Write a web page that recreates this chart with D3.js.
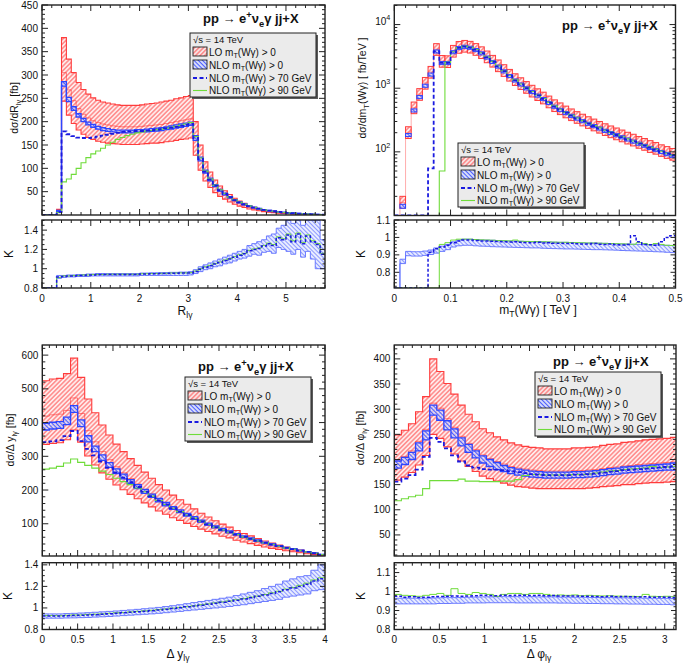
<!DOCTYPE html>
<html><head><meta charset="utf-8">
<script src="https://cdn.jsdelivr.net/npm/d3@7"></script>
<style>body{margin:0;background:#fff}svg{display:block}text{font-family:"Liberation Sans",Arial,Helvetica,sans-serif;fill:#111}</style>
</head><body><svg id="c" width="685" height="667"></svg>
<script>
// ---------------- DATA ----------------
// Panel 1: R_lgamma, bins of 0.1 from 0 to 5.8
const edgesR = d3.range(59).map(i => i / 10);
const loHiR = [0,0,0,12, 380,334,305,284,269,259,251,246,242,240,238,236,235,235,235,235,236,238,239,240,242,244,246,249,251,254,256,
  200,150,114,92,75,62,52,44,36,30,25,20,16.6,14,11.2,9.4,7.9,6.1,5.2,4.2,3.5,2.8,2.4,1.8,1.4,1.0,0.75];
const loMidR = [0,0,0,9, 305,268,245,228,216,208,202,198,195,193,191,190,189,189,189,189,190,191,192,193,194,196,198,200,202,204,206,
  160,120,91,74,60,50,42,35,29,24,20,16,13.3,11.2,9,7.5,6.3,4.9,4.2,3.4,2.8,2.2,1.9,1.4,1.1,0.8,0.6];
const loLoR = [0,0,0,7, 244,214,196,182,173,166,162,158,156,154,153,152,151,151,151,151,152,153,154,154,155,157,158,160,162,163,165,
  128,96,73,59,48,40,34,28,23,19,16,13,10.6,9,7.2,6,5,3.9,3.4,2.7,2.2,1.8,1.5,1.1,0.9,0.6,0.5];
const nloLoR = [0,0,0,8, 276,243,224,210,200,193,188,184,181,179,178,177,176,176,176,177,178,178,179,180,181,183,184,186,188,190,192,
  160,116,90,73,61,51,43,36.5,31,26,22,18,15.3,12.8,10.4,9,7.5,6.1,5.1,4.2,3.4,2.7,2.2,1.7,1.2,0.9,0.6];
const nloHiR = [0,0,0,10, 286,252,232,217,207,199,194,190,187,185,183,182,182,182,182,183,183,184,185,186,187,189,191,193,195,197,199,
  170,124,96,79,65,55,47,39.5,33,28,24,20,16.7,14.2,11.6,10,8.5,6.9,5.9,4.8,4,3.3,2.6,2.1,1.6,1.1,0.8];
const nlo70R = [0,0,0,6, 179,173,169,166,165,165,166,168,170,172,174,176,178,179,179,180,180,181,182,183,184,186,187,189,191,193,195,
  165,120,93,76,63,53,45,38,32,27,23,19,16,13.5,11,9.5,8,6.5,5.5,4.5,3.7,3,2.4,1.9,1.4,1,0.7];
const nlo90R = [0,0,0,5, 71,77,87,100,112,123,131,137,143,150,156,162,166,170,173,176,178,180,181,183,184,186,188,190,192,195,198,
  168,122,94,77,64,54,46,38,32,27,23,19,16,13.5,11,9.5,8,6.5,5.5,4.5,3.7,3,2.4,1.9,1.4,1,0.7];
const kLoR = [0,0,0,0.90, 0.91,0.915,0.915,0.92,0.92,0.92,0.925, 0.925,0.925,0.925,0.925,0.925,0.925,0.925,0.925,0.925,
  0.93,0.93,0.93,0.93,0.93,0.93,0.93,0.93,0.93,0.93, 0.935,
  0.95,0.97,0.99,1.0,1.02,1.03,1.05,1.06,1.08,1.10,1.11,1.13,1.15,1.14,1.17,1.18,1.16,1.22,1.20,1.18,1.15,1.20,1.12,1.18,1.10,1.00,1.00];
const kHiR = [0,0,0,0.93, 0.93,0.935,0.935,0.94,0.94,0.945,0.945, 0.95,0.95,0.95,0.95,0.95,0.95,0.95,0.95,0.95,
  0.955,0.955,0.958,0.958,0.96,0.96,0.962,0.962,0.965,0.965, 0.97,
  0.99,1.02,1.04,1.06,1.08,1.10,1.12,1.14,1.16,1.18,1.20,1.24,1.26,1.28,1.30,1.34,1.36,1.42,1.45,1.50,1.47,1.50,1.45,1.50,1.50,1.50,1.30];
const k70R = [0,0,0,0.915, 0.92,0.925,0.925,0.93,0.93,0.935,0.935, 0.94,0.94,0.94,0.94,0.94,0.94,0.94,0.94,0.94,
  0.945,0.945,0.948,0.948,0.95,0.95,0.952,0.952,0.955,0.955, 0.955,
  0.97,0.995,1.015,1.03,1.05,1.065,1.085,1.10,1.12,1.14,1.155,1.185,1.20,1.21,1.235,1.26,1.24,1.32,1.30,1.35,1.28,1.36,1.26,1.34,1.28,1.25,1.15];
const k90R = [0,0,0,0.91, 0.925,0.925,0.93,0.93,0.935,0.935,0.94, 0.94,0.94,0.942,0.942,0.942,0.942,0.942,0.942,0.942,
  0.948,0.948,0.95,0.95,0.952,0.952,0.955,0.955,0.957,0.957, 0.96,
  0.975,1.0,1.02,1.035,1.055,1.07,1.09,1.105,1.125,1.145,1.16,1.19,1.205,1.215,1.24,1.265,1.25,1.33,1.31,1.36,1.29,1.37,1.27,1.35,1.29,1.26,1.16];

// Panel 2: mT(W gamma) in TeV, bins of 0.01 from 0 to 0.5
const edgesM = d3.range(51).map(i => i / 100);
const loHiM = [0,20,248,606,985,1475,2200,5012,3262,3228,4702,5408,5630,5444,5020,4465,3836,3277,2778,2339,1974,1685,1458,1270,1111,978,866,752,656,587,523,472,428,390,356,327,300,276,255,237,220,203,189,174,162,150,140,129,121,113];
const loLoM = [0,13,162,398,646,967,1442,3286,2139,2117,3083,3546,3692,3570,3292,2928,2515,2149,1822,1534,1294,1105,956,833,729,642,568,493,430,385,343,310,281,256,234,214,197,181,167,155,144,133,124,114,106,98,92,85,79,74];
const loMidM = [0,16,203,497,807,1209,1803,4108,2674,2646,3854,4433,4615,4462,4115,3660,3144,2686,2277,1917,1618,1381,1195,1041,911,802,710,616,538,481,429,387,351,320,292,268,246,226,209,194,180,166,155,143,133,123,115,106,99,93];
const nloLoM = [0,13,174,423,686,1034,1551,3572,2350,2350,3478,4042,4230,4089,3760,3337,2867,2444,2068,1739,1466,1250,1081,940,823,724,639,555,484,432,385,348,315,287,261,240,220,202,187,173,160,148,137,127,118,109,102,94,87,82];
const nloHiM = [0,15,194,473,767,1155,1733,3990,2625,2625,3885,4515,4725,4568,4200,3728,3203,2730,2310,1943,1638,1397,1208,1050,919,809,714,620,541,483,431,389,352,320,292,268,246,226,209,193,179,165,153,142,131,122,113,105,98,91];
const nlo70M = [0,0,0,0,0,0,55,3800,2500,2500,3700,4300,4500,4350,4000,3550,3050,2600,2200,1850,1560,1330,1150,1000,875,770,680,590,515,460,410,370,335,305,278,255,234,215,199,184,170,157,146,135,125,116,108,100,93,87];
const nlo90M = [0,0,0,0,0,0,0,0,50,2550,3750,4350,4550,4400,4050,3600,3100,2640,2230,1880,1580,1350,1165,1015,888,782,690,600,523,467,417,376,340,310,282,259,238,218,202,187,173,160,148,137,127,118,110,102,95,89];
const kLoM = [0,0.85,0.895,0.893,0.893,0.897,0.902,0.91,0.92,0.93,0.945,0.952,0.955,0.955,0.952,0.95,0.949,0.947,0.946,0.945,0.944,0.943,0.942,0.941,0.94,0.94,0.938,0.937,0.936,0.935,0.934,0.934,0.933,0.932,0.931,0.93,0.93,0.929,0.928,0.927,0.925,0.924,0.923,0.922,0.921,0.92,0.918,0.917,0.915,0.913];
const kHiM = [0,0.875,0.92,0.918,0.918,0.922,0.928,0.94,0.95,0.96,0.975,0.985,0.99,0.99,0.988,0.986,0.985,0.984,0.982,0.981,0.98,0.979,0.978,0.977,0.976,0.976,0.975,0.974,0.973,0.972,0.972,0.971,0.97,0.969,0.968,0.968,0.967,0.966,0.965,0.964,0.963,0.962,0.961,0.96,0.959,0.958,0.957,0.956,0.955,0.954];
const k70M = [0,0,0,0,0,0,0.915,0.935,0.945,0.955,0.97,0.98,0.985,0.985,0.982,0.98,0.98,0.978,0.976,0.975,0.974,0.975,0.972,0.971,0.97,0.972,0.968,0.97,0.967,0.966,0.965,0.967,0.964,0.963,0.962,0.965,0.961,0.96,0.962,0.958,0.957,0.96,1.01,0.975,0.96,0.958,0.955,0.975,1.0,1.01];
const k90M = [0,0,0,0,0,0,0,0,0.96,0.97,0.985,0.99,0.99,0.99,0.988,0.986,0.985,0.984,0.982,0.981,0.98,0.985,0.978,0.977,0.976,0.976,0.975,0.974,0.973,0.972,0.972,0.971,0.97,0.969,0.968,0.968,0.967,0.966,0.965,0.964,0.963,0.962,0.961,0.97,0.965,0.958,0.965,0.96,0.955,0.954];

// Panel 3: Delta y_lgamma, bins of 0.1 from 0 to 4
const edgesY = d3.range(41).map(i => i / 10);
const loHiY = [524,529,531,545,591,534,470,429,393,363,336,314,293,273,253,235,216,200,185,171,158,144,131,120,109,99,90,80,71,64,56,49,43,37,31,26,22,17.5,13,9];
const loMidY = [419,423,425,436,473,427,376,343,314,290,269,251,234,218,202,188,173,160,148,137,126,115,105,96,87,79,72,64,57,51,45,39,34,30,25,21,17.5,14,10.5,7];
const loLoY = [335,338,340,349,378,342,301,274,251,232,215,201,187,174,162,150,138,128,118,110,101,92,84,77,70,63,58,51,46,41,36,31,27,24,20,17,14,11,8.4,5.6];
const nloLoY = [378,381,383,394,430,388,343,314,288,267,249,233,219,204,190,178,165,153,143,133,123,113,105,96,88,80,73,67,60,54,48,42.5,37.5,33,28,24,20,16.4,12.5,8.6];
const nloHiY = [398,401,403,416,450,408,361,330,304,281,263,247,231,216,202,188,175,163,151,141,131,121,111,102,94,86,79,71,64,58,52,45.5,40.5,35,30,26,22,17.6,13.5,9.4];
const nlo70Y = [342,344,348,360,375,345,322,303,284,266,252,237,223,209,195,182,169,157,146,136,126,116,107,98,90,82,75,68,61,55,49,43.5,38.5,33.5,28.5,24.5,20.5,16.5,12.5,8.5];
const nlo90Y = [262,265,270,280,292,282,273,265,256,246,235,225,216,206,195,182,169,157,146,136,126,116,107,98,90,82,75,68,61,55,49,43.5,38.5,33.5,28.5,24.5,20.5,16.5,12.5,8.5];
const kLoY = [0.905,0.905,0.905,0.907,0.908,0.91,0.912,0.915,0.918,0.921,0.925,0.929,0.933,0.937,0.941,0.945,0.95,0.956,0.962,0.968,0.975,0.981,0.987,0.994,1.0,1.007,1.014,1.022,1.03,1.04,1.05,1.06,1.07,1.08,1.1,1.11,1.12,1.13,1.16,1.17];
const kHiY = [0.945,0.945,0.945,0.948,0.95,0.953,0.956,0.96,0.964,0.968,0.972,0.977,0.982,0.987,0.993,0.999,1.005,1.013,1.021,1.03,1.04,1.05,1.06,1.07,1.08,1.09,1.1,1.115,1.13,1.145,1.16,1.18,1.2,1.22,1.25,1.27,1.29,1.3,1.35,1.4];
const k70Y = [0.925,0.925,0.925,0.928,0.93,0.932,0.935,0.938,0.942,0.946,0.95,0.955,0.96,0.965,0.97,0.975,0.98,0.988,0.995,1.002,1.01,1.018,1.026,1.035,1.044,1.053,1.062,1.072,1.083,1.095,1.108,1.12,1.135,1.15,1.17,1.185,1.2,1.22,1.25,1.27];
const k90Y = [0.93,0.93,0.928,0.932,0.935,0.935,0.94,0.942,0.945,0.95,0.955,0.958,0.963,0.968,0.973,0.978,0.985,0.99,0.998,1.005,1.012,1.02,1.03,1.038,1.047,1.056,1.065,1.076,1.087,1.1,1.11,1.125,1.14,1.155,1.175,1.19,1.21,1.23,1.26,1.28];

// Panel 4: Delta phi_lgamma, 40 bins of pi/40
const edgesP = d3.range(41).map(i => i * Math.PI / 40);
const loHiP = [249,258,271,295,325,400,375,351,330,308,290,275,261,253,245,239,233,229,226,224,223,221,221,221,221,223,223,224,225,228,230,231,234,235,237,239,240,241,242,244];
const loMidP = [199,206,217,236,260,312,302,281,264,246,232,220,209,202,196,191,186,183,181,179,178,177,177,177,177,178,178,179,180,182,184,185,187,188,190,191,192,193,194,195];
const loLoP = [159,165,174,189,208,250,242,225,211,197,186,176,167,162,157,153,149,146,145,143,142,142,142,142,142,142,142,143,144,146,147,148,150,150,152,153,154,154,155,156];
const nloLoP = [183,190,200,217,239,288,278,259,243,227,214,203,193,186,180,176,172,169,167,165,164,163,163,163,163,164,164,165,166,168,170,171,173,174,175,176,177,178,179,179];
const nloHiP = [197,204,214,233,257,308,298,277,261,243,230,217,207,200,194,188,184,181,179,177,176,175,175,175,175,176,176,177,178,180,182,183,185,186,187,188,189,190,191,193];
const nlo70P = [156,162,169,180,205,243,235,222,208,196,188,184,181,180,180,179,177,175,173,171,170,169,169,169,169,170,170,171,172,174,176,177,179,180,181,182,183,184,185,186];
const nlo90P = [118,122,126,129,142,158,158,158,158,161,157,157,156,156,156,157,157,160,168,170,170,169,169,169,169,170,170,171,173,175,177,178,180,181,182,183,186,184,185,186];
const kLoP = [0.935,0.935,0.935,0.935,0.935,0.935,0.937,0.937,0.938,0.938,0.94,0.94,0.94,0.941,0.941,0.941,0.941,0.94,0.94,0.94,0.94,0.94,0.94,0.939,0.939,0.938,0.938,0.937,0.937,0.936,0.936,0.935,0.935,0.934,0.934,0.933,0.933,0.932,0.932,0.93];
const kHiP = [0.965,0.965,0.965,0.965,0.965,0.966,0.967,0.968,0.968,0.969,0.97,0.971,0.972,0.972,0.973,0.973,0.973,0.973,0.973,0.973,0.972,0.972,0.972,0.971,0.971,0.97,0.97,0.969,0.969,0.968,0.968,0.967,0.967,0.966,0.966,0.965,0.965,0.964,0.964,0.963];
const k70P = [0.975,0.97,0.972,0.968,0.97,0.972,0.974,0.975,0.976,0.975,0.977,0.978,0.98,0.979,0.978,0.98,0.979,0.981,0.98,0.979,0.98,0.978,0.979,0.977,0.976,0.977,0.975,0.975,0.974,0.973,0.975,0.972,0.974,0.972,0.971,0.972,0.97,0.971,0.97,0.969];
const k90P = [0.985,0.98,0.978,0.975,0.98,0.985,0.99,0.98,1.015,0.99,0.985,0.995,0.99,0.985,0.975,0.985,0.99,0.99,0.985,0.99,0.99,0.985,0.98,0.982,0.98,0.982,0.978,0.98,0.978,0.977,0.978,0.976,0.975,0.975,0.974,0.985,0.975,0.974,0.975,0.973];

// Tick values
const xTicksR = [0,1,2,3,4,5], yTicksR = [50,100,150,200,250,300,350,400,450], kTicksR = [0.8,1,1.2,1.4];
const xTicksM = [0,0.1,0.2,0.3,0.4,0.5], yTicksM = [100,1000,10000], kTicksM = [0.8,0.9,1,1.1];
const xTicksY = [0,0.5,1,1.5,2,2.5,3,3.5,4], yTicksY = [100,200,300,400,500,600], kTicksY = [0.8,1,1.2,1.4];
const xTicksP = [0,0.5,1,1.5,2,2.5,3], yTicksP = [50,100,150,200,250,300,350,400], kTicksP = [0.8,0.9,1,1.1];

// Text
const legendLabels = ['LO', 'NLO', 'NLO', 'NLO'];
const legendCuts = ['> 0', '> 0', '> 70 GeV', '> 90 GeV'];

// ---------------- DRAWING ----------------
const svg = d3.select('#c');
const defs = svg.append('defs');
function hatch(id, angle, color, bg, sw, gap) {
  const p = defs.append('pattern').attr('id', id).attr('patternUnits', 'userSpaceOnUse')
    .attr('width', gap).attr('height', gap).attr('patternTransform', `rotate(${angle})`);
  if (bg) p.append('rect').attr('width', gap).attr('height', gap).attr('fill', bg);
  p.append('line').attr('x1', gap / 2).attr('y1', 0).attr('x2', gap / 2).attr('y2', gap)
    .attr('stroke', color).attr('stroke-width', sw);
}
hatch('hLO', 45, '#ff5a5a', 'rgba(255,222,222,0.6)', 1, 3.2);
hatch('hNLO', -45, '#4b5dff', 'rgba(205,212,255,0.7)', 1, 3);
hatch('hK', -45, '#8190ff', 'rgba(222,228,255,0.7)', 0.9, 3);

const RED = '#ff3c3c', BLUE = '#2e46ff', DBLUE = '#1a1ae0', GREEN = '#6fdc3a';

function rich(sel, parts, size, subShift) {
  let shift = 0;
  const ss = subShift == null ? 0.28 : subShift;
  parts.forEach(p => {
    const target = p[1] === 'sub' ? size * ss : p[1] === 'sup' ? -size * 0.42 : 0;
    const ts = sel.append('tspan').text(p[0]).attr('dy', target - shift);
    if (p[1]) ts.attr('font-size', size * 0.72);
    shift = target;
  });
  return sel;
}
const fmt = v => String(+v.toFixed(2));

const panels = [
  { edges: edgesR, xd: [0, 5.8], left: 42, right: 325, top: 5, bot: 215, rtop: 220, rbot: 288,
    yd: [0, 450], log: false, kd: [0.8, 1.505], xT: xTicksR, xMin: 0.2, yT: yTicksR, yMin: 10, kT: kTicksR, kMin: 0.05,
    s: { loHi: loHiR, loMid: loMidR, loLo: loLoR, nloLo: nloLoR, nloHi: nloHiR, n70: nlo70R, n90: nlo90R, kLo: kLoR, kHi: kHiR, k70: k70R, k90: k90R },
    yTitle: [['dσ/dR'], ['lγ', 'sub'], [' [fb]']], yTP: [18, 108], kP: [13, 254],
    xTitle: [['R'], ['lγ', 'sub']], xTP: [185, 315], titleP: [203, 23], legP: [190, 33] },
  { edges: edgesM, xd: [0, 0.5], left: 394.3, right: 675.5, top: 5, bot: 215.5, rtop: 220, rbot: 288,
    yd: [10, 20300], log: true, kd: [0.71, 1.1], xT: xTicksM, xMin: 0.02, yT: yTicksM, yMin: null, kT: kTicksM, kMin: 0.02, boxes: true,
    s: { loHi: loHiM, loMid: loMidM, loLo: loLoM, nloLo: nloLoM, nloHi: nloHiM, n70: nlo70M, n90: nlo90M, kLo: kLoM, kHi: kHiM, k70: k70M, k90: k90M },
    yTitle: [['dσ/dm'], ['T', 'sub'], ['(Wγ)  [ fb/TeV ]']], yTP: [366, 88], kP: [365, 254],
    xTitle: [['m'], ['T', 'sub'], ['(Wγ)  [ TeV ]']], xTP: [538, 314], titleP: [562, 30], legP: [458, 143] },
  { edges: edgesY, xd: [0, 4], left: 42.3, right: 325, top: 345, bot: 556, rtop: 562.7, rbot: 629.5,
    yd: [4.4, 630], log: false, kd: [0.8, 1.42], xT: xTicksY, xMin: 0.1, yT: yTicksY, yMin: 20, kT: kTicksY, kMin: 0.05,
    s: { loHi: loHiY, loMid: loMidY, loLo: loLoY, nloLo: nloLoY, nloHi: nloHiY, n70: nlo70Y, n90: nlo90Y, kLo: kLoY, kHi: kHiY, k70: k70Y, k90: k90Y },
    yTitle: [['dσ/Δ y'], ['lγ', 'sub'], [' [fb]']], yTP: [14, 440], kP: [12, 596],
    xTitle: [['Δ y'], ['lγ', 'sub']], xTP: [178, 658], titleP: [198, 371], legP: [185, 377] },
  { edges: edgesP, xd: [0, 3.125], left: 394.3, right: 676, top: 345, bot: 556, rtop: 562.7, rbot: 629.5,
    yd: [8.1, 427.6], log: false, kd: [0.8, 1.152], xT: xTicksP, xMin: 0.1, yT: yTicksP, yMin: 10, kT: kTicksP, kMin: 0.02,
    s: { loHi: loHiP, loMid: loMidP, loLo: loLoP, nloLo: nloLoP, nloHi: nloHiP, n70: nlo70P, n90: nlo90P, kLo: kLoP, kHi: kHiP, k70: k70P, k90: k90P },
    yTitle: [['dσ/Δ φ'], ['lγ', 'sub'], [' [fb]']], yTP: [364, 438], kP: [365, 596],
    xTitle: [['Δ φ'], ['lγ', 'sub']], xTP: [539, 658], titleP: [553, 366], legP: [535, 372] }
];

function minorVals(d0, d1, step, majors) {
  const out = [];
  const start = Math.ceil(d0 / step - 1e-6);
  for (let i = start; i * step <= d1 + 1e-9; i++) {
    const v = +(i * step).toFixed(6);
    if (!majors.some(m => Math.abs(m - v) < step / 10)) out.push(v);
  }
  return out;
}

function yTicks(g, scale, vals, left, right, len) {
  g.selectAll(null).data(vals).join('path')
    .attr('d', v => `M${left},${scale(v)}h${len}M${right},${scale(v)}h${-len}`)
    .attr('stroke', '#222').attr('stroke-width', 1);
}
function xTicks(g, scale, vals, top, bot, len) {
  g.selectAll(null).data(vals).join('path')
    .attr('d', v => `M${scale(v)},${bot}v${-len}M${scale(v)},${top}v${len}`)
    .attr('stroke', '#222').attr('stroke-width', 1);
}

panels.forEach((c, idx) => {
  const x = d3.scaleLinear().domain(c.xd).range([c.left, c.right]);
  const y = (c.log ? d3.scaleLog() : d3.scaleLinear()).domain(c.yd).range([c.bot, c.top]).clamp(true);
  const k = d3.scaleLinear().domain(c.kd).range([c.rbot, c.rtop]).clamp(true);
  defs.append('clipPath').attr('id', 'cm' + idx).append('rect')
    .attr('x', c.left).attr('y', c.top).attr('width', c.right - c.left).attr('height', c.bot - c.top);
  defs.append('clipPath').attr('id', 'cr' + idx).append('rect')
    .attr('x', c.left).attr('y', c.rtop).attr('width', c.right - c.left).attr('height', c.rbot - c.rtop);
  const gm = svg.append('g').attr('clip-path', `url(#cm${idx})`);
  const gr = svg.append('g').attr('clip-path', `url(#cr${idx})`);
  const E = c.edges, S = c.s;
  const pts = v => { const p = v.map((d, i) => [E[i], d]); p.push([E[v.length], v[v.length - 1]]); return p; };
  const bpts = (lo, hi) => { const p = lo.map((d, i) => [E[i], d, hi[i]]); p.push([E[lo.length], lo[lo.length - 1], hi[hi.length - 1]]); return p; };
  const lineM = d3.line().curve(d3.curveStepAfter).x(d => x(d[0])).y(d => y(d[1]));
  const areaM = d3.area().curve(d3.curveStepAfter).x(d => x(d[0])).y0(d => y(d[1])).y1(d => y(d[2]));
  const lineK = d3.line().curve(d3.curveStepAfter).x(d => x(d[0])).y(d => k(d[1]));
  const areaK = d3.area().curve(d3.curveStepAfter).x(d => x(d[0])).y0(d => k(d[1])).y1(d => k(d[2]));

  // ---- main plot ----
  if (c.boxes) {
    const boxes = (lo, hi, fill, stroke, sw) => gm.append('g').selectAll('rect')
      .data(hi.map((h, i) => ({ i, h, l: lo[i] })).filter(d => d.h > 0)).join('rect')
      .attr('x', d => x(E[d.i])).attr('width', d => x(E[d.i + 1]) - x(E[d.i]))
      .attr('y', d => y(d.h)).attr('height', d => y(d.l) - y(d.h))
      .attr('fill', fill).attr('stroke', stroke).attr('stroke-width', sw);
    boxes(S.loLo, S.loHi, 'url(#hLO)', RED, 1);
    gm.append('path').attr('d', lineM(pts(S.loMid))).attr('fill', 'none').attr('stroke', RED).attr('stroke-width', 0.6).attr('opacity', 0.7);
    boxes(S.nloLo, S.nloHi, 'url(#hNLO)', BLUE, 1);
  } else {
    gm.append('path').attr('d', areaM(bpts(S.loLo, S.loHi))).attr('fill', 'url(#hLO)');
    [S.loHi, S.loLo].forEach(v => gm.append('path').attr('d', lineM(pts(v))).attr('fill', 'none').attr('stroke', RED).attr('stroke-width', 1.1));
    gm.append('path').attr('d', lineM(pts(S.loMid))).attr('fill', 'none').attr('stroke', RED).attr('stroke-width', 0.8).attr('opacity', 0.8);
    gm.append('path').attr('d', areaM(bpts(S.nloLo, S.nloHi))).attr('fill', 'url(#hNLO)');
    [S.nloHi, S.nloLo].forEach(v => gm.append('path').attr('d', lineM(pts(v))).attr('fill', 'none').attr('stroke', BLUE).attr('stroke-width', 1.3));
  }
  gm.append('path').attr('d', lineM(pts(S.n90))).attr('fill', 'none').attr('stroke', GREEN).attr('stroke-width', 1.1);
  gm.append('path').attr('d', lineM(pts(S.n70))).attr('fill', 'none').attr('stroke', DBLUE).attr('stroke-width', 1.8).attr('stroke-dasharray', '4,2.5');

  // ---- ratio plot ----
  gr.append('path').attr('d', areaK(bpts(S.kLo, S.kHi))).attr('fill', 'url(#hK)');
  [S.kLo, S.kHi].forEach(v => gr.append('path').attr('d', lineK(pts(v))).attr('fill', 'none').attr('stroke', '#5e6eff').attr('stroke-width', 0.9));
  gr.append('path').attr('d', lineK(pts(S.k90))).attr('fill', 'none').attr('stroke', GREEN).attr('stroke-width', 1);
  gr.append('path').attr('d', lineK(pts(S.k70))).attr('fill', 'none').attr('stroke', DBLUE).attr('stroke-width', 1.5).attr('stroke-dasharray', '3,2');

  // ---- frames & ticks ----
  const ga = svg.append('g');
  ga.append('rect').attr('x', c.left).attr('y', c.top).attr('width', c.right - c.left).attr('height', c.bot - c.top)
    .attr('fill', 'none').attr('stroke', '#222').attr('stroke-width', 1.4);
  ga.append('rect').attr('x', c.left).attr('y', c.rtop).attr('width', c.right - c.left).attr('height', c.rbot - c.rtop)
    .attr('fill', 'none').attr('stroke', '#222').attr('stroke-width', 1.4);
  const xMinor = minorVals(c.xd[0], c.xd[1], c.xMin, c.xT);
  xTicks(ga, x, c.xT, c.top, c.bot, 6); xTicks(ga, x, xMinor, c.top, c.bot, 3);
  xTicks(ga, x, c.xT, c.rtop, c.rbot, 6); xTicks(ga, x, xMinor, c.rtop, c.rbot, 3);
  yTicks(ga, y, c.yT, c.left, c.right, 6);
  if (c.log) {
    const lm = [];
    [10, 100, 1000, 10000].forEach(d => [2, 3, 4, 5, 6, 7, 8, 9].forEach(m => { if (m * d <= c.yd[1]) lm.push(m * d); }));
    yTicks(ga, y, lm, c.left, c.right, 3);
  } else {
    yTicks(ga, y, minorVals(c.yd[0], c.yd[1], c.yMin, c.yT), c.left, c.right, 3);
  }
  const kMajor = c.kT.filter(v => v >= c.kd[0] - 1e-9 && v <= c.kd[1] + 1e-9);
  yTicks(ga, k, kMajor, c.left, c.right, 5);
  yTicks(ga, k, minorVals(c.kd[0], c.kd[1], c.kMin, c.kT), c.left, c.right, 2.5);

  // labels
  const fs = 10;
  ga.selectAll(null).data(c.yT).join('text')
    .attr('x', c.left - 4).attr('y', v => y(v)).attr('dy', '0.35em').attr('text-anchor', 'end').attr('font-size', fs)
    .each(function (v) {
      if (c.log) rich(d3.select(this), [['10'], [String(Math.round(Math.log10(v))), 'sup']], fs);
      else d3.select(this).text(fmt(v));
    });
  ga.selectAll(null).data(kMajor).join('text')
    .attr('x', c.left - 4).attr('y', v => k(v)).attr('dy', '0.35em').attr('text-anchor', 'end').attr('font-size', fs)
    .text(fmt);
  ga.selectAll(null).data(c.xT).join('text')
    .attr('x', v => x(v)).attr('y', c.rbot + 13.5).attr('text-anchor', 'middle').attr('font-size', fs)
    .text(fmt);

  // axis titles
  rich(ga.append('text').attr('transform', `translate(${c.yTP[0]},${c.yTP[1]}) rotate(-90)`)
    .attr('text-anchor', 'middle').attr('font-size', 10.5), c.yTitle, 10.5);
  ga.append('text').attr('transform', `translate(${c.kP[0]},${c.kP[1]}) rotate(-90)`)
    .attr('text-anchor', 'middle').attr('font-size', 12).text('K');
  rich(ga.append('text').attr('x', c.xTP[0]).attr('y', c.xTP[1]).attr('text-anchor', 'middle').attr('font-size', 12), c.xTitle, 12);

  // process title
  rich(ga.append('text').attr('x', c.titleP[0]).attr('y', c.titleP[1]).attr('font-size', 13).attr('font-weight', 'bold'),
    [['pp  → e'], ['+', 'sup'], ['ν'], ['e', 'sub'], ['γ jj+X']], 13);

  // legend
  const [bx, by] = c.legP, bw = 126, bh = 64;
  const gl = svg.append('g');
  gl.append('rect').attr('x', bx + 2).attr('y', by + 2).attr('width', bw).attr('height', bh).attr('fill', '#5a5a5a');
  gl.append('rect').attr('x', bx).attr('y', by).attr('width', bw).attr('height', bh).attr('fill', '#ebebeb')
    .attr('stroke', '#222').attr('stroke-width', 1);
  gl.append('text').attr('x', bx + 3).attr('y', by + 9.5).attr('font-size', 9.5).text('√s = 14 TeV');
  const rowsY = [22.5, 35.5, 48.5, 61];
  legendLabels.forEach((lab, i) => {
    const yy = by + rowsY[i];
    if (i < 2) {
      gl.append('rect').attr('x', bx + 3).attr('y', yy - 8.5).attr('width', 14).attr('height', 9)
        .attr('fill', i === 0 ? 'url(#hLO)' : 'url(#hNLO)').attr('stroke', '#222').attr('stroke-width', 0.9);
    } else {
      gl.append('line').attr('x1', bx + 3).attr('x2', bx + 17).attr('y1', yy - 3.5).attr('y2', yy - 3.5)
        .attr('stroke', i === 2 ? DBLUE : GREEN).attr('stroke-width', i === 2 ? 1.8 : 1.1)
        .attr('stroke-dasharray', i === 2 ? '4,2.5' : null);
    }
    rich(gl.append('text').attr('x', bx + 19).attr('y', yy).attr('font-size', 10),
      [[lab + ' m'], ['T', 'sub'], ['(Wγ) ' + legendCuts[i]]], 10, 0.2);
  });
});
</script></body></html>
